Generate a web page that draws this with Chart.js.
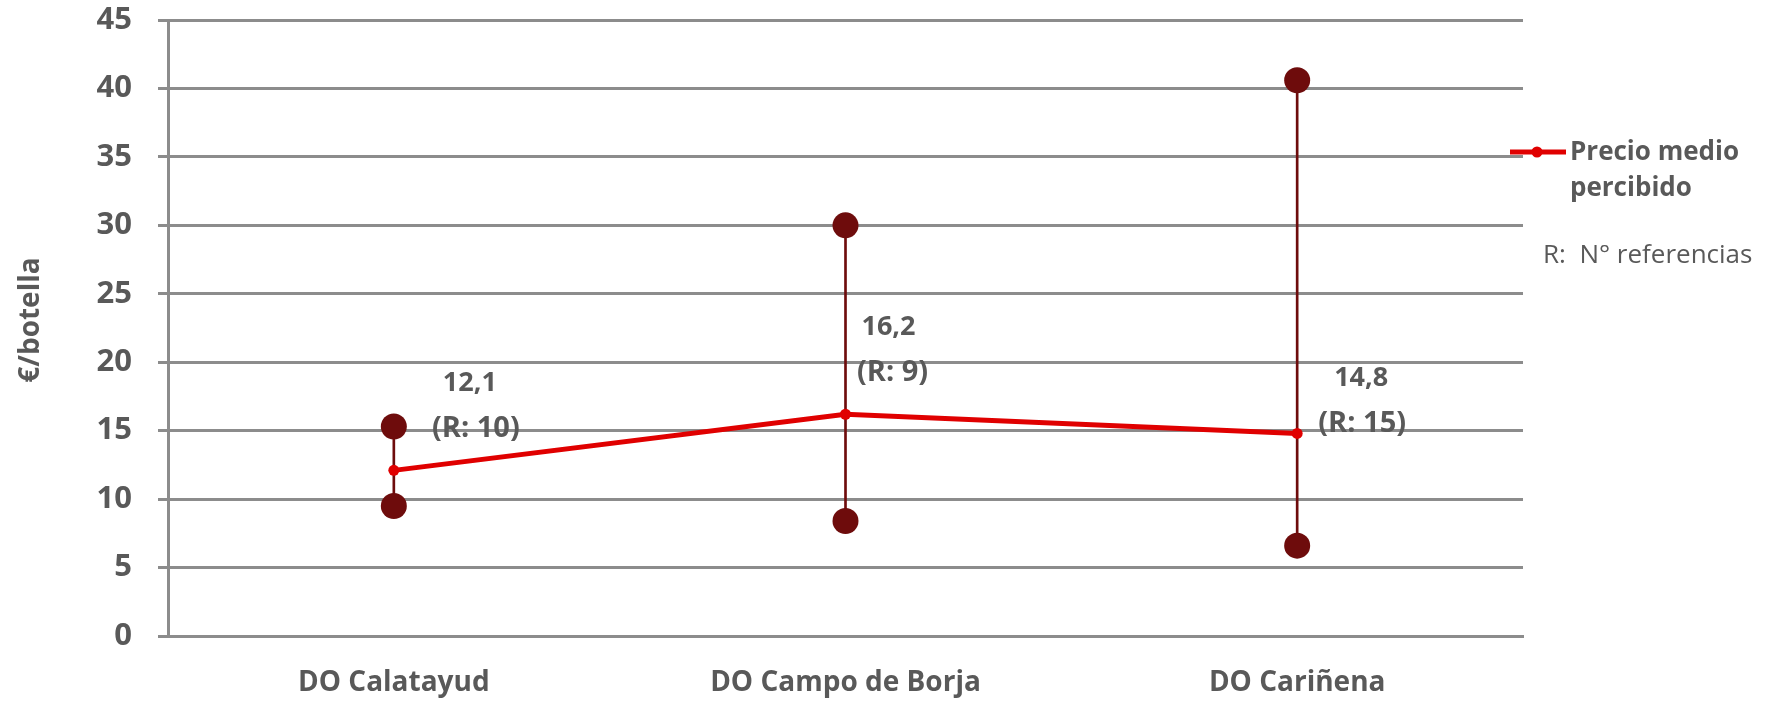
<!DOCTYPE html>
<html>
<head>
<meta charset="utf-8">
<script src="https://cdn.jsdelivr.net/npm/chart.js@4/dist/chart.umd.min.js"></script>
<style>
  html, body { margin: 0; padding: 0; background: #ffffff; }
  #wrap { width: 1783px; height: 704px; position: relative; }
</style>
</head>
<body>
<div id="wrap"><canvas id="chart" width="1783" height="704"></canvas></div>
<script>
// Precio por botella según denominación de origen
const categories = ['DO Calatayud', 'DO Campo de Borja', 'DO Cariñena'];
const precioMedio = [12.1, 16.2, 14.8];
const precioMinimo = [9.5, 8.4, 6.6];
const precioMaximo = [15.3, 30.0, 40.6];
const referencias = [10, 9, 15];
const yMin = 0, yMax = 45, yStep = 5;

const GRAY_TEXT = '#595959';
const GRID = '#8c8c8c';
const MAROON = '#6e0c0c';
const RED = '#e00000';

// per-point placement of the value / reference labels (pixels from the mean point)
const labelPlacement = [
  { dx1: 76, dx2: 82, dy1: -87, dy2: -42 },
  { dx1: 43, dx2: 47, dy1: -87, dy2: -42 },
  { dx1: 64, dx2: 65, dy1: -55, dy2: -10 }
];

const fmt = v => v.toFixed(1).replace('.', ',');

const annotations = {
  id: 'annotations',
  afterDatasetsDraw(chart) {
    const ctx = chart.ctx;
    const meta = chart.getDatasetMeta(3);
    ctx.save();
    ctx.fillStyle = GRAY_TEXT;
    ctx.textAlign = 'center';
    ctx.textBaseline = 'middle';
    meta.data.forEach((pt, i) => {
      const p = labelPlacement[i];
      ctx.font = 'bold 27px "Open Sans"';
      ctx.fillText(fmt(precioMedio[i]), pt.x + p.dx1, pt.y + p.dy1);
      ctx.font = 'bold 29px "Open Sans"';
      ctx.fillText('(R: ' + referencias[i] + ')', pt.x + p.dx2, pt.y + p.dy2);
    });
    ctx.restore();
  },
  afterDraw(chart) {
    const ctx = chart.ctx;
    ctx.save();
    // axis title
    ctx.fillStyle = GRAY_TEXT;
    ctx.font = 'bold 28px "Open Sans"';
    ctx.textAlign = 'center';
    ctx.textBaseline = 'middle';
    ctx.translate(31, 320);
    ctx.rotate(-Math.PI / 2);
    ctx.fillText('€/botella', 0, 0);
    ctx.restore();

    // legend
    ctx.save();
    ctx.strokeStyle = RED;
    ctx.lineWidth = 5;
    ctx.beginPath();
    ctx.moveTo(1510, 152);
    ctx.lineTo(1566, 152);
    ctx.stroke();
    ctx.fillStyle = RED;
    ctx.beginPath();
    ctx.arc(1537, 152, 5.5, 0, Math.PI * 2);
    ctx.fill();
    ctx.fillStyle = GRAY_TEXT;
    ctx.textAlign = 'left';
    ctx.textBaseline = 'middle';
    ctx.font = 'bold 26px "Open Sans"';
    ctx.fillText('Precio medio', 1570, 153);
    ctx.fillText('percibido', 1570, 189);
    ctx.font = '26px "Open Sans"';
    ctx.fillText('R:  N° referencias', 1543, 256);
    ctx.restore();
  }
};

new Chart(document.getElementById('chart'), {
  data: {
    labels: categories,
    datasets: [
      {
        type: 'bar',
        label: 'Rango',
        data: precioMinimo.map((v, i) => [v, precioMaximo[i]]),
        backgroundColor: MAROON,
        barThickness: 2,
        order: 4
      },
      {
        type: 'line',
        label: 'Máximo',
        data: precioMaximo,
        showLine: false,
        pointRadius: 13,
        pointBackgroundColor: MAROON,
        pointBorderColor: MAROON,
        pointBorderWidth: 0,
        order: 3
      },
      {
        type: 'line',
        label: 'Mínimo',
        data: precioMinimo,
        showLine: false,
        pointRadius: 13,
        pointBackgroundColor: MAROON,
        pointBorderColor: MAROON,
        pointBorderWidth: 0,
        order: 2
      },
      {
        type: 'line',
        label: 'Precio medio percibido',
        data: precioMedio,
        borderColor: RED,
        borderWidth: 5,
        pointRadius: 5.5,
        pointBackgroundColor: RED,
        pointBorderColor: RED,
        pointBorderWidth: 0,
        tension: 0,
        order: 1
      }
    ]
  },
  options: {
    responsive: false,
    animation: false,
    devicePixelRatio: 1,
    layout: { padding: { left: 0, right: 260, top: 0, bottom: 0 } },
    plugins: {
      legend: { display: false },
      tooltip: { enabled: false }
    },
    scales: {
      x: {
        grid: { display: false, drawTicks: false },
        border: { display: true, color: GRID, width: 3 },
        ticks: {
          color: GRAY_TEXT,
          font: { family: 'Open Sans', weight: 'bold', size: 28 },
          padding: 30,
          maxRotation: 0
        },
        afterFit(scale) { scale.height = 68; }
      },
      y: {
        min: yMin,
        max: yMax,
        grid: { color: GRID, lineWidth: 3, tickLength: 10, drawTicks: true },
        border: { display: true, color: GRID, width: 3 },
        ticks: {
          stepSize: yStep,
          color: GRAY_TEXT,
          font: { family: 'Open Sans', weight: 'bold', size: 31 },
          padding: 26
        },
        afterFit(scale) {
          scale.width = 168;
          scale.paddingTop = 20;
          scale.paddingBottom = 0;
        }
      }
    }
  },
  plugins: [annotations]
});
</script>
</body>
</html>
